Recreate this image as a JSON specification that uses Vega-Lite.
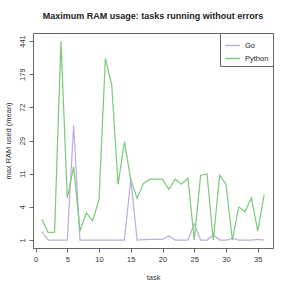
{
  "$schema": "https://vega.github.io/schema/vega-lite/v6.json",
  "width": 240,
  "height": 215,
  "autosize": {"type": "none"},
  "padding": {"left": 33, "top": 33, "right": 18, "bottom": 43},
  "background": "white",
  "title": {"text": "Maximum RAM usage: tasks running without errors", "font": "Liberation Sans", "fontSize": 9, "fontWeight": "bold", "color": "#222", "anchor": "middle", "offset": 12},
  "config": {
    "view": {"stroke": "#666", "strokeWidth": 1},
    "axis": {"grid": false, "domainColor": "#666", "tickColor": "#666", "labelColor": "#333", "titleColor": "#333", "labelFont": "Liberation Sans", "titleFont": "Liberation Sans", "labelFontSize": 7.5, "titleFontSize": 7.5, "titleFontWeight": "normal", "tickSize": 4}
  },
  "data": {"values": [
    {"task": 1, "lang": "Go", "ram": 1.5},
    {"task": 2, "lang": "Go", "ram": 1},
    {"task": 3, "lang": "Go", "ram": 1},
    {"task": 4, "lang": "Go", "ram": 1},
    {"task": 5, "lang": "Go", "ram": 1},
    {"task": 6, "lang": "Go", "ram": 44},
    {"task": 7, "lang": "Go", "ram": 1},
    {"task": 8, "lang": "Go", "ram": 1},
    {"task": 9, "lang": "Go", "ram": 1},
    {"task": 10, "lang": "Go", "ram": 1},
    {"task": 11, "lang": "Go", "ram": 1},
    {"task": 12, "lang": "Go", "ram": 1},
    {"task": 13, "lang": "Go", "ram": 1},
    {"task": 14, "lang": "Go", "ram": 1},
    {"task": 15, "lang": "Go", "ram": 9.4},
    {"task": 16, "lang": "Go", "ram": 1},
    {"task": 17, "lang": "Go", "ram": 1.02},
    {"task": 18, "lang": "Go", "ram": 1.03},
    {"task": 19, "lang": "Go", "ram": 1.03},
    {"task": 20, "lang": "Go", "ram": 1.03},
    {"task": 21, "lang": "Go", "ram": 1.23},
    {"task": 22, "lang": "Go", "ram": 1},
    {"task": 23, "lang": "Go", "ram": 1},
    {"task": 24, "lang": "Go", "ram": 1},
    {"task": 25, "lang": "Go", "ram": 2.1},
    {"task": 26, "lang": "Go", "ram": 1},
    {"task": 27, "lang": "Go", "ram": 1},
    {"task": 28, "lang": "Go", "ram": 1.29},
    {"task": 29, "lang": "Go", "ram": 1},
    {"task": 30, "lang": "Go", "ram": 1},
    {"task": 31, "lang": "Go", "ram": 1.09},
    {"task": 32, "lang": "Go", "ram": 1},
    {"task": 33, "lang": "Go", "ram": 1},
    {"task": 34, "lang": "Go", "ram": 1},
    {"task": 35, "lang": "Go", "ram": 1.04},
    {"task": 36, "lang": "Go", "ram": 1},
    {"task": 1, "lang": "Python", "ram": 2.5},
    {"task": 2, "lang": "Python", "ram": 1.44},
    {"task": 3, "lang": "Python", "ram": 1.48},
    {"task": 4, "lang": "Python", "ram": 441},
    {"task": 5, "lang": "Python", "ram": 5.2},
    {"task": 6, "lang": "Python", "ram": 13.6},
    {"task": 7, "lang": "Python", "ram": 1.55},
    {"task": 8, "lang": "Python", "ram": 3.19},
    {"task": 9, "lang": "Python", "ram": 2.37},
    {"task": 10, "lang": "Python", "ram": 5.03},
    {"task": 11, "lang": "Python", "ram": 275},
    {"task": 12, "lang": "Python", "ram": 133},
    {"task": 13, "lang": "Python", "ram": 8.06},
    {"task": 14, "lang": "Python", "ram": 27.8},
    {"task": 15, "lang": "Python", "ram": 9.2},
    {"task": 16, "lang": "Python", "ram": 5.2},
    {"task": 17, "lang": "Python", "ram": 8.3},
    {"task": 18, "lang": "Python", "ram": 9.4},
    {"task": 19, "lang": "Python", "ram": 9.4},
    {"task": 20, "lang": "Python", "ram": 9.4},
    {"task": 21, "lang": "Python", "ram": 6.9},
    {"task": 22, "lang": "Python", "ram": 9.4},
    {"task": 23, "lang": "Python", "ram": 8.1},
    {"task": 24, "lang": "Python", "ram": 9.7},
    {"task": 25, "lang": "Python", "ram": 1},
    {"task": 26, "lang": "Python", "ram": 10.6},
    {"task": 27, "lang": "Python", "ram": 11},
    {"task": 28, "lang": "Python", "ram": 1},
    {"task": 29, "lang": "Python", "ram": 10.6},
    {"task": 30, "lang": "Python", "ram": 8.1},
    {"task": 31, "lang": "Python", "ram": 1},
    {"task": 32, "lang": "Python", "ram": 3.9},
    {"task": 33, "lang": "Python", "ram": 3.3},
    {"task": 34, "lang": "Python", "ram": 5.3},
    {"task": 35, "lang": "Python", "ram": 1.55},
    {"task": 36, "lang": "Python", "ram": 5.8}
  ]},
  "mark": {"type": "line", "strokeWidth": 1.25, "clip": true},
  "encoding": {
    "x": {"field": "task", "type": "quantitative",
      "scale": {"domain": [-0.4, 37.4], "nice": false, "zero": false},
      "axis": {"values": [0, 5, 10, 15, 20, 25, 30, 35], "title": "task", "labelPadding": 3, "titlePadding": 11}},
    "y": {"field": "ram", "type": "quantitative",
      "scale": {"type": "symlog", "constant": 1, "domain": [0.611, 547.8], "nice": false, "zero": false},
      "axis": {"values": [1, 3.92, 11.09, 28.7, 72.1, 178.8, 441], "labelExpr": "format(datum.value, '.0f')", "labelAngle": 270, "labelAlign": "center", "labelBaseline": "bottom", "labelPadding": 3, "title": "max RAM used (mean)", "titlePadding": 6}},
    "color": {"field": "lang", "type": "nominal",
      "scale": {"domain": ["Go", "Python"], "range": ["#bfaee2", "#7dcb7d"]},
      "legend": {"title": null, "orient": "top-right", "offset": 0, "padding": 4, "strokeColor": "#666", "fillColor": "white", "symbolType": "stroke", "symbolStrokeWidth": 1.5, "symbolSize": 220, "labelFont": "Liberation Sans", "labelFontSize": 7.5, "labelColor": "#222", "rowPadding": 1, "labelOffset": 4, "cornerRadius": 0}}
  }
}
